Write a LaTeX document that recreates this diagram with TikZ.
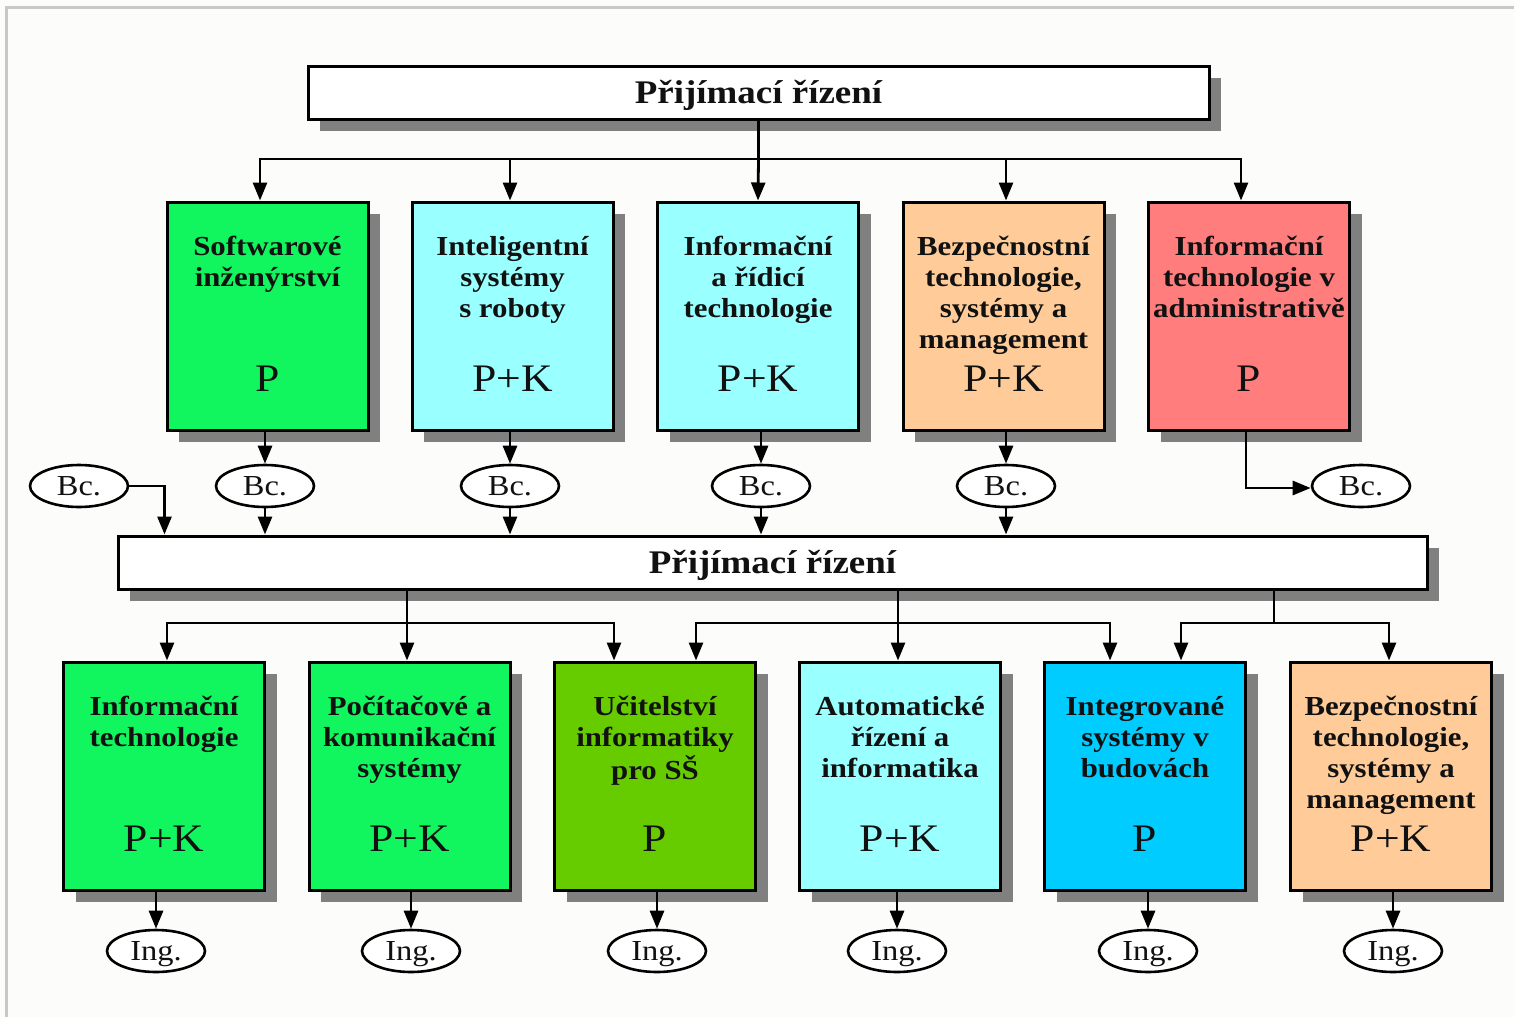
\documentclass[tikz,border=0pt]{standalone}
\usepackage{fontspec}
\setmainfont{Liberation Serif}
\usepackage{graphicx}
\usetikzlibrary{arrows.meta,shapes.geometric,shadows,calc}
\definecolor{bgc}{RGB}{252,252,250}
\definecolor{framec}{RGB}{200,200,200}
\definecolor{shadowc}{RGB}{128,128,128}
\definecolor{cgreen}{RGB}{17,245,95}
\definecolor{ccyan}{RGB}{153,255,255}
\definecolor{corange}{RGB}{255,204,153}
\definecolor{cred}{RGB}{255,125,125}
\definecolor{cdgreen}{RGB}{102,204,0}
\definecolor{cblue}{RGB}{0,204,255}
\definecolor{txt}{RGB}{17,17,17}
\newcommand{\hs}[1]{\scalebox{1.12}[1]{#1}}
\newcommand{\mlines}[1]{\hs{\begin{tabular}[t]{@{}c@{}}#1\end{tabular}}}
\begin{document}
\begin{tikzpicture}[x=1pt,y=-1pt,
  shad/.style={drop shadow={shadow xshift=12pt,shadow yshift=-12pt,fill=shadowc,opacity=1}},
  prog/.style={draw=black,line width=3pt,minimum width=201pt,minimum height=228pt,inner sep=0pt,shad},
  bar/.style={draw=black,line width=3pt,fill=white,minimum height=53pt,inner sep=0pt,shad,font=\bfseries\fontsize{33}{36}\selectfont,text=txt,text height=22pt,text depth=0pt},
  ttl/.style={anchor=base,inner sep=0pt,font=\bfseries\fontsize{27.5}{31}\selectfont,text=txt},
  form/.style={anchor=base,inner sep=0pt,font=\fontsize{39}{40}\selectfont,text=txt},
  deg/.style={ellipse,draw=black,line width=2.6pt,fill=white,minimum width=98pt,minimum height=42pt,inner sep=0pt,font=\fontsize{29}{30}\selectfont,text=txt,text height=19pt,text depth=0pt},
  conn/.style={line width=2.8pt,black},
  arr/.style={conn,-{Triangle[length=18pt,width=14pt]}},
]
\useasboundingbox (0,0) rectangle (1514,1017);
\fill[bgc] (0,0) rectangle (1514,1017);
\draw[framec,line width=3pt] (6,1017) -- (6,7) -- (1514,7);

% bars
\node[bar,minimum width=901pt] (top) at (758.5,92.5) {\hs{Přijímací řízení}};
\node[bar,minimum width=1309pt] (bot) at (772.5,562.5) {\hs{Přijímací řízení}};

% row 1
\node[prog,fill=cgreen] (a1) at (267.5,316) {};
\node[prog,fill=ccyan] (a2) at (512.5,316) {};
\node[prog,fill=ccyan] (a3) at (758,316) {};
\node[prog,fill=corange] (a4) at (1003.5,316) {};
\node[prog,fill=cred] (a5) at (1249,316) {};

\node[ttl] (a1t) at ($(a1.north)+(0,55)$) {\mlines{Softwarové\\inženýrství}};
\node[ttl] (a2t) at ($(a2.north)+(0,55)$) {\mlines{Inteligentní\\systémy\\s roboty}};
\node[ttl] (a3t) at ($(a3.north)+(0,55)$) {\mlines{Informační\\a řídicí\\technologie}};
\node[ttl] (a4t) at ($(a4.north)+(0,55)$) {\mlines{Bezpečnostní\\technologie,\\systémy a\\management}};
\node[ttl] (a5t) at ($(a5.north)+(0,55)$) {\mlines{Informační\\technologie v\\administrativě}};

\node[form] (a1p) at ($(a1.north)+(0,191)$) {\hs{P}};
\node[form] (a2p) at ($(a2.north)+(0,191)$) {\hs{P+K}};
\node[form] (a3p) at ($(a3.north)+(0,191)$) {\hs{P+K}};
\node[form] (a4p) at ($(a4.north)+(0,191)$) {\hs{P+K}};
\node[form] (a5p) at ($(a5.north)+(0,191)$) {\hs{P}};

% row 2
\node[prog,fill=cgreen] (b1) at (164,776) {};
\node[prog,fill=cgreen] (b2) at (409.5,776) {};
\node[prog,fill=cdgreen] (b3) at (655,776) {};
\node[prog,fill=ccyan] (b4) at (900,776) {};
\node[prog,fill=cblue] (b5) at (1145,776) {};
\node[prog,fill=corange] (b6) at (1391,776) {};

\node[ttl] (b1t) at ($(b1.north)+(0,55)$) {\mlines{Informační\\technologie}};
\node[ttl] (b2t) at ($(b2.north)+(0,55)$) {\mlines{Počítačové a\\komunikační\\systémy}};
\node[ttl] (b3t) at ($(b3.north)+(0,55)$) {\mlines{Učitelství\\informatiky\\pro SŠ}};
\node[ttl] (b4t) at ($(b4.north)+(0,55)$) {\mlines{Automatické\\řízení a\\informatika}};
\node[ttl] (b5t) at ($(b5.north)+(0,55)$) {\mlines{Integrované\\systémy v\\budovách}};
\node[ttl] (b6t) at ($(b6.north)+(0,55)$) {\mlines{Bezpečnostní\\technologie,\\systémy a\\management}};

\node[form] (b1p) at ($(b1.north)+(0,191)$) {\hs{P+K}};
\node[form] (b2p) at ($(b2.north)+(0,191)$) {\hs{P+K}};
\node[form] (b3p) at ($(b3.north)+(0,191)$) {\hs{P}};
\node[form] (b4p) at ($(b4.north)+(0,191)$) {\hs{P+K}};
\node[form] (b5p) at ($(b5.north)+(0,191)$) {\hs{P}};
\node[form] (b6p) at ($(b6.north)+(0,191)$) {\hs{P+K}};

% degree ellipses
\node[deg] (bc1) at (79,486) {\hs{Bc.}};
\node[deg] (bc2) at (265,486) {\hs{Bc.}};
\node[deg] (bc3) at (510,486) {\hs{Bc.}};
\node[deg] (bc4) at (761,486) {\hs{Bc.}};
\node[deg] (bc5) at (1006,486) {\hs{Bc.}};
\node[deg] (bc6) at (1361,486) {\hs{Bc.}};

\node[deg] (i1) at (156,951) {\hs{Ing.}};
\node[deg] (i2) at (411,951) {\hs{Ing.}};
\node[deg] (i3) at (657,951) {\hs{Ing.}};
\node[deg] (i4) at (897,951) {\hs{Ing.}};
\node[deg] (i5) at (1148,951) {\hs{Ing.}};
\node[deg] (i6) at (1393,951) {\hs{Ing.}};

% top bus
\coordinate (bus1) at (758.5,159);
\draw[conn] (top.south) -- (bus1);
\draw[arr] (bus1) -| ([xshift=-7.5pt]a1.north);
\draw[arr] (bus1) -| ([xshift=-2.5pt]a2.north);
\draw[arr] (bus1) -- (a3.north);
\draw[arr] (bus1) -| ([xshift=2.5pt]a4.north);
\draw[arr] (bus1) -| ([xshift=-8pt]a5.north);

% row 1 to Bc
\draw[arr] (bc2 |- a1.south) -- (bc2.north);
\draw[arr] (bc3 |- a2.south) -- (bc3.north);
\draw[arr] (bc4 |- a3.south) -- (bc4.north);
\draw[arr] (bc5 |- a4.south) -- (bc5.north);
\draw[arr] ([xshift=-3pt]a5.south) |- ([yshift=-2pt]bc6.west);

% Bc to second admission
\draw[arr] (bc1.east) -| ([xshift=48pt]bot.north west);
\draw[arr] (bc2.south) -- (bc2 |- bot.north);
\draw[arr] (bc3.south) -- (bc3 |- bot.north);
\draw[arr] (bc4.south) -- (bc4 |- bot.north);
\draw[arr] (bc5.south) -- (bc5 |- bot.north);

% bottom buses
\coordinate (s1) at (407,623);
\coordinate (s2) at (898,623);
\coordinate (s3) at (1274,623);
\draw[conn] (s1 |- bot.south) -- (s1);
\draw[conn] (s2 |- bot.south) -- (s2);
\draw[conn] (s3 |- bot.south) -- (s3);
\draw[arr] (s1) -| ([xshift=3pt]b1.north);
\draw[arr] (s1) -| ([xshift=-2.5pt]b2.north);
\draw[arr] (s1) -| ([xshift=-41pt]b3.north);
\draw[arr] (s2) -| ([xshift=41pt]b3.north);
\draw[arr] (s2) -| ([xshift=-2pt]b4.north);
\draw[arr] (s2) -| ([xshift=-35pt]b5.north);
\draw[arr] (s3) -| ([xshift=36pt]b5.north);
\draw[arr] (s3) -| ([xshift=-2pt]b6.north);

% row 2 to Ing
\draw[arr] (i1 |- b1.south) -- (i1.north);
\draw[arr] (i2 |- b2.south) -- (i2.north);
\draw[arr] (i3 |- b3.south) -- (i3.north);
\draw[arr] (i4 |- b4.south) -- (i4.north);
\draw[arr] (i5 |- b5.south) -- (i5.north);
\draw[arr] (i6 |- b6.south) -- (i6.north);
\end{tikzpicture}
\end{document}
